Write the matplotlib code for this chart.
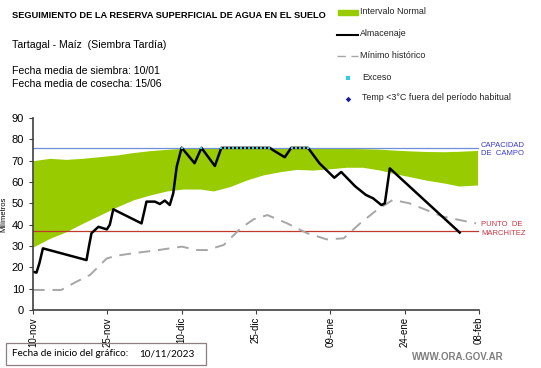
import numpy as np
import matplotlib
matplotlib.use("Agg")
import matplotlib.pyplot as plt
from matplotlib.patches import Rectangle
from matplotlib.lines import Line2D

plt.rcParams['font.family'] = ['Liberation Sans', 'DejaVu Sans']

# days counted from 10-nov-2023
band_days = [0, 3.4, 6.7, 10, 13.5, 17, 20.2, 23.6, 27, 30.3, 33.7, 36.4, 39.7, 43.1,
             46.4, 49.8, 53.2, 56.5, 60, 63.2, 66.5, 70, 72.6, 76, 79.3, 83, 86, 89.7]
band_low = [29.5, 33.6, 36.7, 40.6, 44.5, 48.4, 51.6, 53.9, 55.8, 56.7, 56.7, 55.8, 57.8, 60.9,
            63.3, 64.8, 65.9, 65.6, 66.2, 66.9, 66.9, 65.6, 64.1, 62.5, 60.9, 59.5, 58.1, 58.6]
band_high = [70, 71.1, 70.6, 71.1, 71.9, 72.7, 73.8, 74.7, 75.3, 75.8, 76, 76, 76, 76,
             76, 76, 76, 76, 76, 75.8, 75.6, 75.4, 75, 74.6, 74.3, 74.2, 74.4, 74.8]

alm_days = [0, 0.7, 1.3, 2, 10.8, 11.3, 11.8, 13.2, 14.9, 15.5, 16.2, 21.9, 22.9, 24.6, 25.6,
            26.6, 27.6, 28.3, 29, 30, 32.6, 34, 36.7, 38, 47.8, 48.4, 50.8, 52.1, 55.5,
            57.8, 60.8, 62.2, 65, 67.2, 68.6, 70.3, 71, 72, 86.1]
alm = [18, 17.5, 22, 28.9, 23.4, 30, 36, 39, 37.8, 40, 47.2, 40.6, 50.8, 50.8, 49.7,
       51.3, 49.2, 54.7, 67.2, 76.1, 68.8, 76, 67.5, 76, 76, 75, 71.6, 76, 76,
       68.8, 62, 64.7, 58, 53.9, 52.4, 49.2, 50, 66.4, 36.3]

min_days = [0, 5.7, 8.8, 11.5, 14.9, 17, 20.2, 25, 30, 33.1, 35.1, 38.5, 41.9, 44.5, 47.3,
            51.3, 55.3, 59.3, 62.7, 66, 69.4, 72.6, 76, 82.7, 89.4]
min_hist = [9.4, 9.4, 13.3, 16.4, 24.2, 25.5, 26.6, 28, 29.7, 28.1, 28.1, 30.5, 38.3, 42.5, 44.5,
            40.6, 36, 33.1, 33.6, 40.6, 46.9, 51.6, 50, 43.8, 40.6]

exceso_days = [30, 34, 38, 38.8, 39.6, 40.4, 41.2, 42, 42.8, 43.6, 44.4, 45.2, 46, 46.8, 47.6,
               52.2, 53, 53.8, 54.6, 55.4]
exceso = [76, 76, 76, 76, 76, 76, 76, 76, 76, 76, 76, 76, 76, 76, 76,
          76, 76, 76, 76, 76]

capacidad = 76
marchitez = 37.2

tick_days = [0, 15, 30, 45, 60, 75, 90]
tick_labels = ['10-nov', '25-nov', '10-dic', '25-dic', '09-ene', '24-ene', '08-feb']

W, H = 541, 368
fig = plt.figure(figsize=(W / 100, H / 100), dpi=100)
ax = fig.add_axes([33 / W, 1 - 310 / H, (479 - 33) / W, (310 - 118) / H])

ax.fill_between(band_days, band_low, band_high, color='#99cc00', lw=0)
ax.axhline(capacidad, color='#6f8fd8', lw=0.9)
ax.axhline(marchitez, color='#c0392b', lw=0.9)
ax.plot(min_days, min_hist, color='#a6a6a6', lw=1.4, dashes=(6, 4))
ax.plot(alm_days, alm, color='black', lw=1.8, solid_joinstyle='round')
ax.plot(exceso_days, exceso, ls='none', marker='s', ms=1.8, color='#33ccdd', mew=0)

ax.set_xlim(0, 90)
ax.set_ylim(0, 90)
ax.set_yticks(range(0, 91, 10))
ax.set_xticks(tick_days)
ax.set_xticklabels(tick_labels, rotation=90, fontsize=7)
ax.tick_params(axis='y', labelsize=8, length=3, width=0.8, color='#404040')
ax.tick_params(axis='x', length=3, width=0.8, color='#404040', pad=2)
for s in ['top', 'right']:
    ax.spines[s].set_visible(False)
for s in ['left', 'bottom']:
    ax.spines[s].set_color('#404040')
    ax.spines[s].set_linewidth(1.2)
ax.set_ylabel('Milímetros', fontsize=5.5, labelpad=3)

# right side labels
fig.text(481 / W, 1 - 149.5 / H, 'CAPACIDAD\nDE  CAMPO', color='#3a3acc', fontsize=5.5,
         va='center', ha='left', linespacing=1.25)
fig.text(481 / W, 1 - 229 / H, 'PUNTO  DE\nMARCHITEZ', color='#cc3344', fontsize=5.5,
         va='center', ha='left', linespacing=1.25)

# header texts
fig.text(12 / W, 1 - 15 / H, 'SEGUIMIENTO DE LA RESERVA SUPERFICIAL DE AGUA EN EL SUELO',
         fontsize=6.7, fontweight='bold', va='center')
fig.text(12 / W, 1 - 45 / H, 'Tartagal - Maíz  (Siembra Tardía)', fontsize=7.6, va='center')
fig.text(12 / W, 1 - 71 / H, 'Fecha media de siembra: 10/01', fontsize=7.6, va='center')
fig.text(12 / W, 1 - 84 / H, 'Fecha media de cosecha: 15/06', fontsize=7.6, va='center')

# legend drawn by hand
fig.patches.append(Rectangle((338 / W, 1 - 14.5 / H), 20 / W, 4 / H, color='#99cc00',
                             transform=fig.transFigure))
fig.lines.append(Line2D([337 / W, 358 / W], [1 - 35 / H, 1 - 35 / H], color='black', lw=1.5,
                        transform=fig.transFigure))
fig.lines.append(Line2D([337 / W, 358 / W], [1 - 56 / H, 1 - 56 / H], color='#a6a6a6', lw=1.0,
                        dashes=(6, 4), transform=fig.transFigure))
fig.lines.append(Line2D([348 / W], [1 - 78 / H], color='#33ccdd', marker='s', ms=2.4, mew=0,
                        transform=fig.transFigure))
fig.lines.append(Line2D([348 / W], [1 - 99 / H], color='#1a1aa0', marker='D', ms=2.8, mew=0,
                        transform=fig.transFigure))
leg_items = [('Intervalo Normal', 360, 12), ('Almacenaje', 360, 34),
             ('Mínimo histórico', 360, 55), ('Exceso', 362, 77),
             ('Temp <3°C fuera del período habitual', 362, 98)]
for txt, x, y in leg_items:
    fig.text(x / W, 1 - y / H, txt, fontsize=6.4, va='center', color='#222222')

# footer
fig.patches.append(Rectangle((6 / W, 1 - 365 / H), 200 / W, 22 / H, fill=False,
                             edgecolor='#8c7f7f', lw=0.9, transform=fig.transFigure))
fig.text(12 / W, 1 - 354 / H, 'Fecha de inicio del gráfico:', family=['Lato', 'DejaVu Sans'],
         fontsize=7.2, va='center')
fig.text(139 / W, 1 - 354 / H, '10/11/2023', family=['Lato', 'DejaVu Sans'],
         fontsize=7.2, va='center')
fig.text(412 / W, 1 - 357 / H, 'WWW.ORA.GOV.AR', fontsize=7, color='#7f7f7f',
         fontweight='bold', va='center')

fig.savefig('out.png', dpi=100)
